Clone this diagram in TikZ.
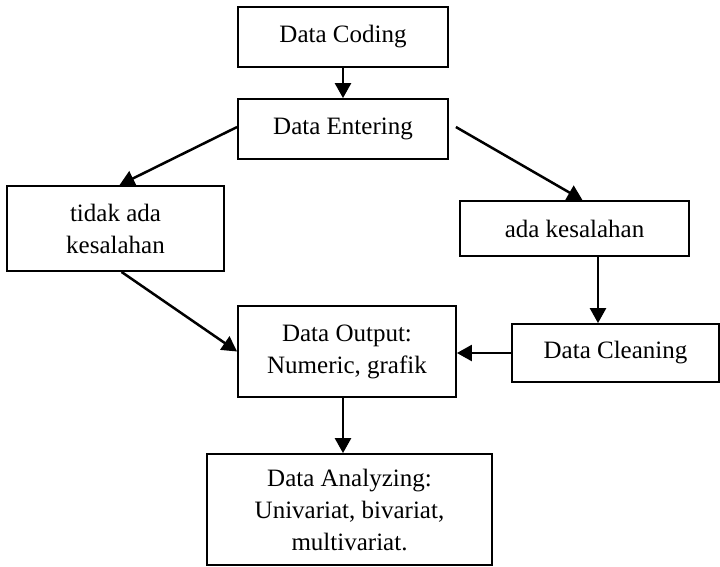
\documentclass[tikz,border=0pt]{standalone}
\usepackage{fontspec}
\setmainfont{Liberation Serif}
\usetikzlibrary{arrows.meta}
\begin{document}
\begin{tikzpicture}[x=1pt,y=-1pt,
  stepbox/.style={draw,line width=1.8pt,inner sep=0pt,align=center,
    font=\fontsize{25}{32}\selectfont},
  flow/.style={line width=2.5pt,-{Triangle[length=15pt,width=16pt]}}]
\useasboundingbox (0,0) rectangle (720,566);
% process boxes
\node[stepbox,minimum width=210pt,minimum height=60pt] (coding) at (343,37) {Data Coding};
\node[stepbox,minimum width=210pt,minimum height=60pt] (entering) at (343,129) {Data Entering};
\node[stepbox,minimum width=217pt,minimum height=85pt] (tidak) at (115.5,228.5) {tidak ada\\kesalahan};
\node[stepbox,minimum width=229pt,minimum height=55pt] (ada) at (574.5,228.5) {ada kesalahan};
\node[stepbox,minimum width=207pt,minimum height=58pt] (cleaning) at (615.5,353) {Data Cleaning};
\node[stepbox,minimum width=218pt,minimum height=91pt] (output) at (347,351.5) {Data Output:\\Numeric, grafik};
\node[stepbox,minimum width=285pt,minimum height=111pt] (analyzing) at (349.5,509.5) {Data Analyzing:\\Univariat, bivariat,\\multivariat.};
% connectors
\draw[flow] (coding.south) -- (entering.north);
\draw[flow] ([yshift=2pt]entering.west) -- ([xshift=4pt]tidak.north);
\draw[flow] ([xshift=7pt,yshift=2pt]entering.east) -- ([xshift=8pt]ada.north);
\draw[flow] ([xshift=23.5pt]ada.south) -- ([xshift=23.5pt]ada.south |- cleaning.north);
\draw[flow] (cleaning.west) -- (cleaning.west -| output.east);
\draw[flow] ([xshift=6pt]tidak.south) -- (output.west);
\draw[flow] ([xshift=-4pt]output.south) -- ([xshift=-4pt]output.south |- analyzing.north);
\end{tikzpicture}
\end{document}
